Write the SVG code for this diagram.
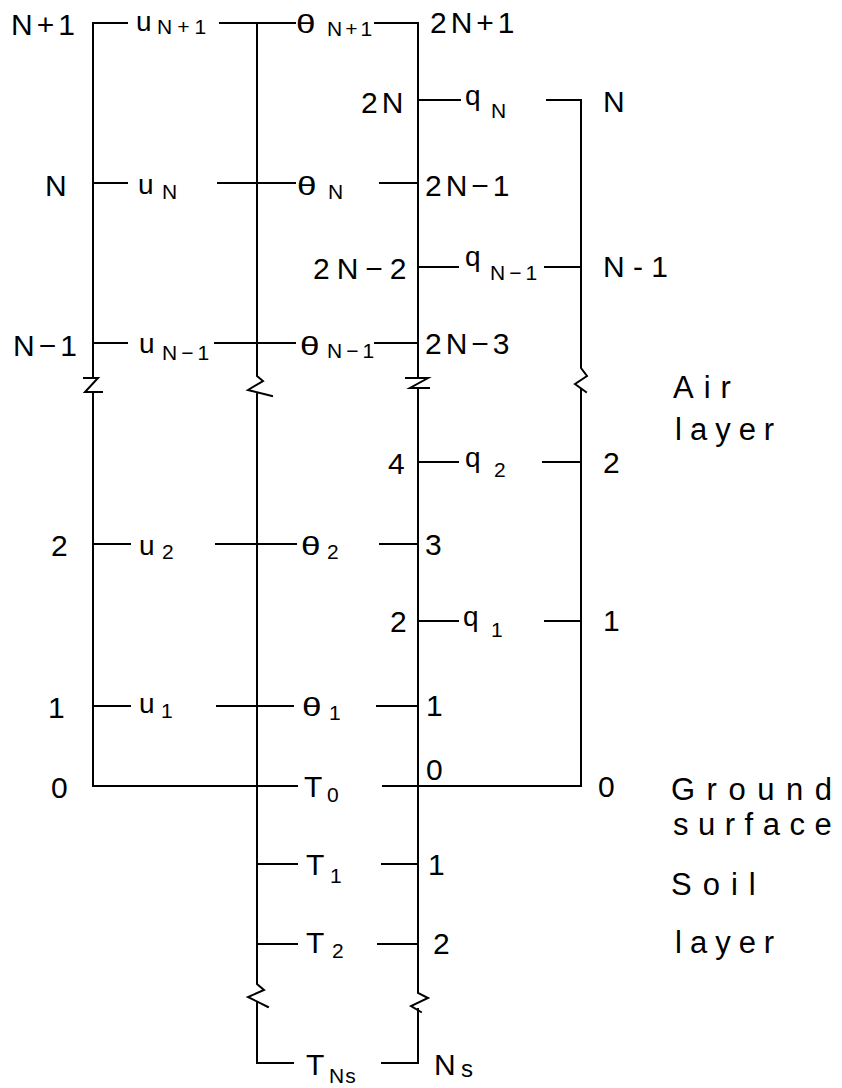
<svg xmlns="http://www.w3.org/2000/svg" width="842" height="1088" viewBox="0 0 842 1088">
<style>
.ln{fill:none;stroke:#000;stroke-width:2;stroke-linecap:square;stroke-linejoin:miter}
text{font-family:"Liberation Sans",Arial,Helvetica,sans-serif;fill:#000}
.n{font-size:30px;letter-spacing:4px}
.v{font-size:28px}
.th{font-size:26px}
.t{font-size:30px}
.s{font-size:21px;letter-spacing:4px}
.w{font-size:31px}
</style>
<rect width="842" height="1088" fill="#fff"/>
<g id="connectors" class="ln">
<path d="M93,23 V378 M84,378 H98 L85,392 H102 M93,393 V786"/>
<path d="M257,23 V376 L263,381 L248,390 L272,396 M257,394 V984 L264,990 L248,997 L268,1007 M257,1003 V1063"/>
<path d="M418,23 V378 M406,378 H428 L410,388 H429 M418,388 V993 L428,998 L411,1006 L421,1012 M418,1009 V1063"/>
<path d="M581,100 V368 L587,376 L575,384 L586,392 M581,390 V786"/>
<path d="M93,23 H127 M220,23 H295 M375,23 H418"/>
<path d="M93,183 H127 M218,183 H295 M380,183 H418"/>
<path d="M93,343 H127 M215,343 H295 M375,343 H418"/>
<path d="M93,544 H130 M216,544 H296 M380,544 H418"/>
<path d="M93,706 H130 M217,706 H293 M377,706 H418"/>
<path d="M93,786 H297 M383,786 H581"/>
<path d="M418,100 H460 M547,100 H581"/>
<path d="M418,267 H458 M545,267 H581"/>
<path d="M418,462 H458 M543,462 H581"/>
<path d="M418,621 H458 M545,621 H581"/>
<path d="M257,864 H297 M382,864 H418"/>
<path d="M257,944 H297 M378,944 H418"/>
<path d="M257,1063 H293 M382,1063 H418"/>
</g>
<g id="row-N1">
<text class="n" x="11" y="35">N+1</text>
<text class="v"><tspan x="136" y="31">u</tspan><tspan class="s" x="157" y="34" style="letter-spacing:5px">N+1</tspan></text>
<text class="th" transform="translate(296,33) scale(1.35,1)">θ</text>
<text class="s" x="327" y="36" style="letter-spacing:3px">N+1</text>
<text class="n" x="430" y="33">2N+1</text>
</g>
<g id="row-2N">
<text class="n" x="361" y="113">2N</text>
<text class="v"><tspan x="465" y="105">q</tspan><tspan class="s" x="491" y="118">N</tspan></text>
<text class="n" x="603" y="112">N</text>
</g>
<g id="row-N">
<text class="n" x="45" y="196">N</text>
<text class="v"><tspan x="138" y="194">u</tspan><tspan class="s" x="162" y="199">N</tspan></text>
<text class="th" transform="translate(297,195) scale(1.35,1)">θ</text>
<text class="s" x="328" y="199">N</text>
<text class="n" x="425" y="196">2N−1</text>
</g>
<g id="row-2N-2">
<text class="n" x="313" y="279" style="letter-spacing:7px">2N−2</text>
<text class="v"><tspan x="465" y="266">q</tspan><tspan class="s" x="490" y="280">N−1</tspan></text>
<text class="n" x="603" y="277" style="letter-spacing:0">N - 1</text>
</g>
<g id="row-N-1">
<text class="n" x="13" y="356">N−1</text>
<text class="v"><tspan x="139" y="353">u</tspan><tspan class="s" x="162" y="360">N−1</tspan></text>
<text class="th" transform="translate(300,355) scale(1.35,1)">θ</text>
<text class="s" x="327" y="358">N−1</text>
<text class="n" x="425" y="354">2N−3</text>
</g>
<g id="label-air">
<text class="w" x="673" y="398" style="letter-spacing:10px">Air</text>
<text class="w" x="675" y="440" style="letter-spacing:8px">layer</text>
</g>
<g id="row-4">
<text class="n" x="388" y="474">4</text>
<text class="v"><tspan x="465" y="467">q</tspan><tspan class="s" x="494" y="477">2</tspan></text>
<text class="n" x="603" y="473">2</text>
</g>
<g id="row-2">
<text class="n" x="51" y="556">2</text>
<text class="v"><tspan x="139" y="555">u</tspan><tspan class="s" x="162" y="559">2</tspan></text>
<text class="th" transform="translate(301,555) scale(1.35,1)">θ</text>
<text class="s" x="327" y="559">2</text>
<text class="n" x="425" y="555">3</text>
</g>
<g id="row-q1">
<text class="n" x="390" y="632">2</text>
<text class="v"><tspan x="463" y="626">q</tspan><tspan class="s" x="491" y="637">1</tspan></text>
<text class="n" x="603" y="631">1</text>
</g>
<g id="row-1">
<text class="n" x="48" y="718">1</text>
<text class="v"><tspan x="139" y="713">u</tspan><tspan class="s" x="161" y="718">1</tspan></text>
<text class="th" transform="translate(302,716) scale(1.35,1)">θ</text>
<text class="s" x="329" y="720">1</text>
<text class="n" x="426" y="716">1</text>
</g>
<g id="row-0">
<text class="n" x="51" y="798">0</text>
<text class="t"><tspan x="304" y="797">T</tspan><tspan class="s" x="327" y="802">0</tspan></text>
<text class="n" x="426" y="780">0</text>
<text class="n" x="598" y="797">0</text>
</g>
<g id="label-ground">
<text class="w" x="671" y="800" style="letter-spacing:11.5px">Ground</text>
<text class="w" x="673" y="835" style="letter-spacing:9.5px">surface</text>
</g>
<g id="row-T1">
<text class="t"><tspan x="306" y="875">T</tspan><tspan class="s" x="330" y="883">1</tspan></text>
<text class="n" x="428" y="875">1</text>
</g>
<g id="row-T2">
<text class="t"><tspan x="306" y="953">T</tspan><tspan class="s" x="332" y="958">2</tspan></text>
<text class="n" x="433" y="954">2</text>
</g>
<g id="label-soil">
<text class="w" x="671" y="895" style="letter-spacing:11px">Soil</text>
<text class="w" x="675" y="953" style="letter-spacing:8px">layer</text>
</g>
<g id="row-TNs">
<text class="t"><tspan x="306" y="1075">T</tspan><tspan class="s" x="329" y="1083" style="letter-spacing:1px">Ns</tspan></text>
<text class="t"><tspan x="434" y="1075">N</tspan><tspan x="461" y="1077" style="font-size:24px">s</tspan></text>
</g>
</svg>
